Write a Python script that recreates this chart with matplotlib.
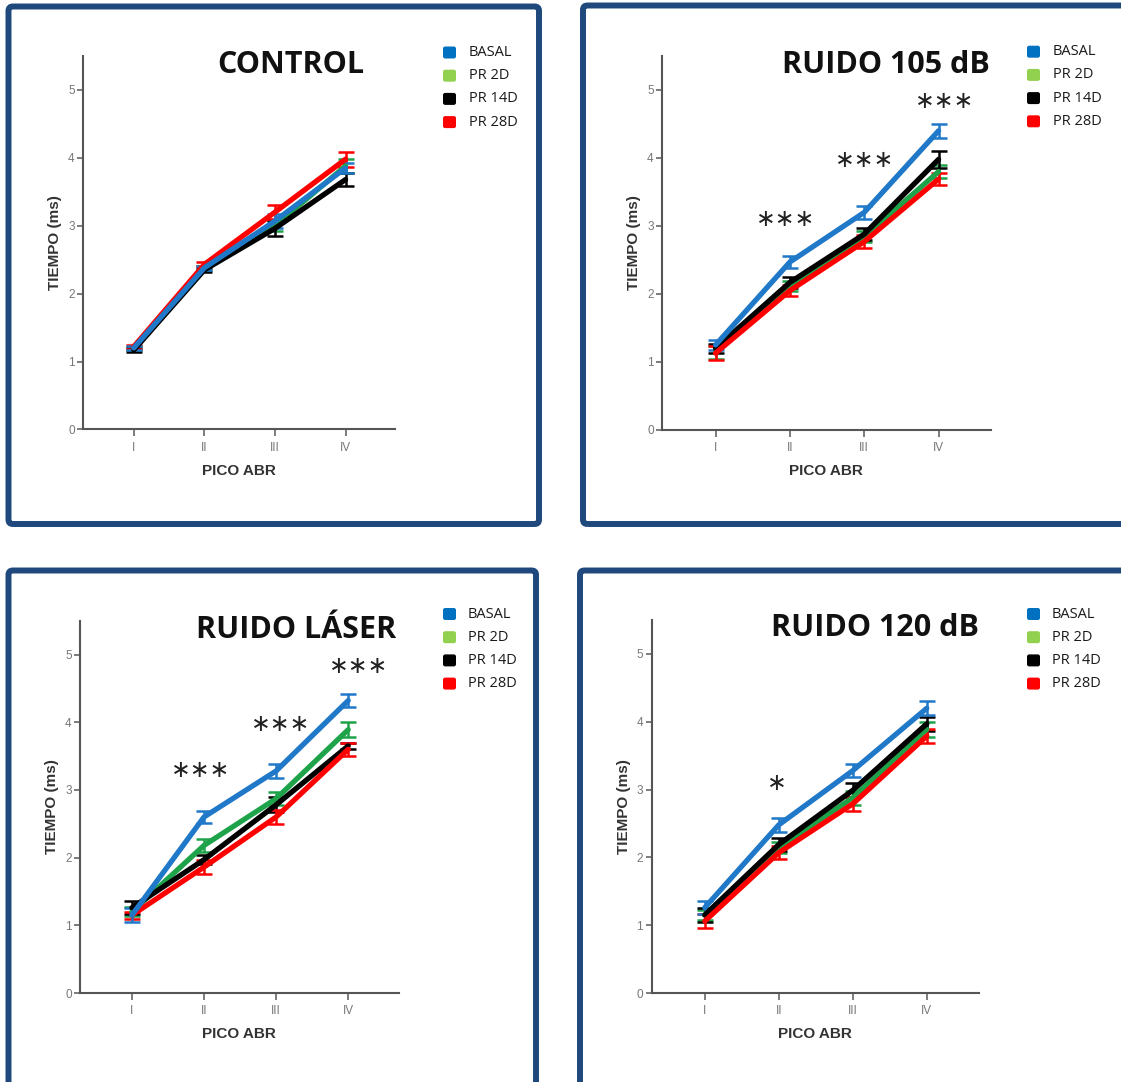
import matplotlib
matplotlib.use("Agg")
import matplotlib.pyplot as plt
from matplotlib.patches import FancyBboxPatch

# ---------------- data ----------------
peaks = ["I", "II", "III", "IV"]
series_names = ["BASAL", "PR 2D", "PR 14D", "PR 28D"]
titles = ["CONTROL", "RUIDO 105 dB", "RUIDO LÁSER", "RUIDO 120 dB"]
y_ticks = [0, 1, 2, 3, 4, 5]

control_basal = [1.20, 2.38, 3.07, 3.85]
control_basal_err = [0.03, 0.03, 0.10, 0.08]
control_pr2d = [1.20, 2.38, 3.00, 3.88]
control_pr2d_err = [0.03, 0.03, 0.08, 0.10]
control_pr14d = [1.17, 2.35, 2.96, 3.68]
control_pr14d_err = [0.03, 0.03, 0.11, 0.09]
control_pr28d = [1.22, 2.43, 3.20, 3.98]
control_pr28d_err = [0.03, 0.03, 0.10, 0.11]

r105_basal = [1.25, 2.47, 3.20, 4.40]
r105_basal_err = [0.07, 0.09, 0.09, 0.10]
r105_pr2d = [1.14, 2.12, 2.84, 3.80]
r105_pr2d_err = [0.10, 0.07, 0.08, 0.10]
r105_pr14d = [1.20, 2.17, 2.88, 3.98]
r105_pr14d_err = [0.07, 0.08, 0.09, 0.12]
r105_pr28d = [1.13, 2.05, 2.77, 3.69]
r105_pr28d_err = [0.10, 0.08, 0.10, 0.09]

laser_basal = [1.15, 2.60, 3.28, 4.32]
laser_basal_err = [0.10, 0.09, 0.10, 0.10]
laser_pr2d = [1.20, 2.18, 2.87, 3.89]
laser_pr2d_err = [0.07, 0.10, 0.10, 0.11]
laser_pr14d = [1.26, 1.97, 2.78, 3.65]
laser_pr14d_err = [0.10, 0.07, 0.11, 0.05]
laser_pr28d = [1.15, 1.86, 2.60, 3.60]
laser_pr28d_err = [0.05, 0.10, 0.10, 0.10]

r120_basal = [1.26, 2.48, 3.28, 4.20]
r120_basal_err = [0.10, 0.10, 0.10, 0.10]
r120_pr2d = [1.15, 2.15, 2.88, 3.89]
r120_pr2d_err = [0.07, 0.08, 0.10, 0.11]
r120_pr14d = [1.15, 2.19, 2.99, 3.97]
r120_pr14d_err = [0.10, 0.10, 0.10, 0.10]
r120_pr28d = [1.06, 2.07, 2.79, 3.79]
r120_pr28d_err = [0.10, 0.10, 0.10, 0.10]

# significance marks: (x position in peak units, y value, label)
stars_control = []
stars_r105 = [(1.94, 3.10, "∗∗∗"), (3.00, 3.97, "∗∗∗"), (4.08, 4.84, "∗∗∗")]
stars_laser = [(1.95, 3.30, "∗∗∗"), (3.06, 3.97, "∗∗∗"), (4.14, 4.83, "∗∗∗")]
stars_r120 = [(1.98, 3.10, "∗")]

# ---------------- style ----------------
W, H = 1121, 1082
line_colors = ["#1f78c8", "#1fa34a", "#000000", "#ff0000"]
legend_colors = ["#0070c0", "#92d050", "#000000", "#ff0000"]
draw_order = [1, 2, 3, 0]

fig = plt.figure(figsize=(W / 100, H / 100), dpi=100)
fig.patch.set_facecolor("white")

def fx(px):
    return px / W

def fy(py):
    return 1 - py / H

# frames (x0, y0, x1, y1) in pixels from top-left
frames = [(8.5, 6.5, 539, 524), (583, 5.5, 1135, 524),
          (8.5, 570.5, 536, 1095), (580, 570.5, 1135, 1095)]
for (x0, y0, x1, y1) in frames:
    fig.add_artist(FancyBboxPatch((fx(x0), fy(y1)), fx(x1 - x0), (y1 - y0) / H,
                                  boxstyle="round,pad=0,rounding_size=0.004",
                                  transform=fig.transFigure, fill=False,
                                  edgecolor="#1f497d", linewidth=4.3, clip_on=False))

# axes geometry: (left px, right px, zero px, px per unit)
geoms = [(83, 395, 429.4, 67.9), (662, 990.6, 430, 68.0),
         (80, 398.7, 993, 67.7), (651.5, 978.6, 993, 67.8)]
title_pos = [(291, 65), (886, 64.6), (296, 630), (874.6, 628.5)]
legend_pos = [(443, 52.5, 469), (1027, 51.7, 1053), (443, 614, 468), (1027, 614, 1052)]

panels = [
    ([control_basal, control_pr2d, control_pr14d, control_pr28d],
     [control_basal_err, control_pr2d_err, control_pr14d_err, control_pr28d_err], stars_control),
    ([r105_basal, r105_pr2d, r105_pr14d, r105_pr28d],
     [r105_basal_err, r105_pr2d_err, r105_pr14d_err, r105_pr28d_err], stars_r105),
    ([laser_basal, laser_pr2d, laser_pr14d, laser_pr28d],
     [laser_basal_err, laser_pr2d_err, laser_pr14d_err, laser_pr28d_err], stars_laser),
    ([r120_basal, r120_pr2d, r120_pr14d, r120_pr28d],
     [r120_basal_err, r120_pr2d_err, r120_pr14d_err, r120_pr28d_err], stars_r120),
]

ymax = 5.5
xpos = list(range(1, len(peaks) + 1))
for i, (vals, errs, stars) in enumerate(panels):
    left, right, zero, ppu = geoms[i]
    top = zero - ymax * ppu
    ax = fig.add_axes([fx(left), fy(zero), fx(right - left), (zero - top) / H])
    ax.set_xlim(0.28, 4.70)
    ax.set_ylim(0, ymax)
    for k in draw_order:
        ax.errorbar(xpos, vals[k], yerr=errs[k], color=line_colors[k], linewidth=3.8,
                    elinewidth=1.8, capsize=6, capthick=1.8, solid_capstyle="round")
    for sp in ["top", "right"]:
        ax.spines[sp].set_visible(False)
    for sp in ["left", "bottom"]:
        ax.spines[sp].set_color("#555555")
        ax.spines[sp].set_linewidth(1.5)
    ax.set_xticks(xpos)
    ax.set_xticklabels(peaks)
    ax.set_yticks(y_ticks)
    ax.tick_params(axis="x", length=5, width=1.2, color="#666666", pad=4,
                   labelsize=8.5, labelcolor="#777777")
    ax.tick_params(axis="y", length=4, width=1.2, color="#666666", pad=2,
                   labelsize=8.5, labelcolor="#777777")
    for lab in ax.get_xticklabels() + ax.get_yticklabels():
        lab.set_family("Liberation Sans")
    ax.set_xlabel("PICO ABR", fontsize=11, fontweight="bold", color="#333333",
                  family="Liberation Sans", labelpad=7)
    ax.set_ylabel("TIEMPO (ms)", fontsize=11, fontweight="bold", color="#333333",
                  family="Liberation Sans", labelpad=4)
    ax.patch.set_alpha(0)
    for (sx, sy, s) in stars:
        ax.text(sx, sy, s, ha="center", va="center", fontsize=17,
                family="DejaVu Sans", color="#222222")

    tx, ty = title_pos[i]
    fig.text(fx(tx), fy(ty), titles[i], ha="center", va="center", fontsize=22,
             fontweight="bold", family="Open Sans", color="#111111")

    lx, ly, ltx = legend_pos[i]
    for j, name in enumerate(series_names):
        cy = ly + j * 23.2
        fig.add_artist(FancyBboxPatch((fx(lx), fy(cy + 6)), fx(13), 12 / H,
                                      boxstyle="round,pad=0,rounding_size=0.002",
                                      transform=fig.transFigure, facecolor=legend_colors[j],
                                      edgecolor="none"))
        fig.text(fx(ltx), fy(cy), name, ha="left", va="center", fontsize=10.5,
                 family="Open Sans", color="#1a1a1a")

fig.savefig("out.png", dpi=100, facecolor="white")
